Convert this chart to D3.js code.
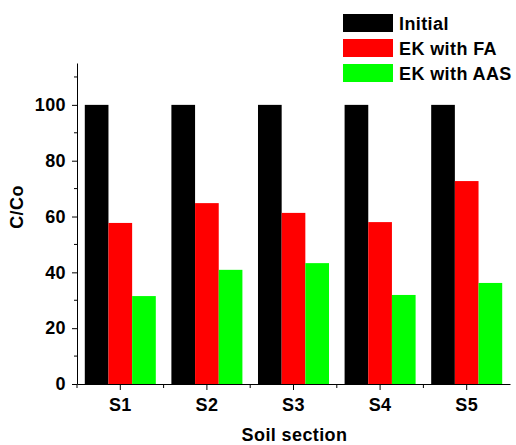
<!DOCTYPE html>
<html>
<head>
<meta charset="utf-8">
<script src="https://cdn.jsdelivr.net/npm/d3@7"></script>
<style>
  body { margin: 0; background: #fff; }
  svg text { font-family: "Liberation Sans", Arial, sans-serif; font-weight: bold; fill: #000; letter-spacing: 0.4px; }
</style>
</head>
<body>
<div id="chart"></div>
<script>
// Chart data
const sections = ["S1", "S2", "S3", "S4", "S5"];
const seriesNames = ["Initial", "EK with FA", "EK with AAS"];
const initialValues = [100, 100, 100, 100, 100];
const faValues = [57.7, 64.8, 61.3, 58.0, 72.7];
const aasValues = [31.5, 40.9, 43.3, 31.9, 36.2];
const yTicks = [0, 20, 40, 60, 80, 100];
const yMinorTicks = [10, 30, 50, 70, 90, 110];

const colors = ["#000000", "#ff0000", "#00ff00"];
const seriesValues = [initialValues, faValues, aasValues];

const width = 516, height = 445;
const svg = d3.select("#chart").append("svg")
    .attr("width", width)
    .attr("height", height);

// Plot area
const plotLeft = 77, plotRight = 510, plotBottom = 384, plotTop = 63;

const x0 = d3.scaleBand()
    .domain(sections)
    .range([plotLeft, plotRight])
    .paddingInner(0.18)
    .paddingOuter(0.09);

const x1 = d3.scaleBand()
    .domain(seriesNames)
    .range([0, x0.bandwidth()]);

const y = d3.scaleLinear()
    .domain([0, 115])
    .range([plotBottom, plotTop]);

// Bars
sections.forEach((s, i) => {
    seriesNames.forEach((name, k) => {
        const v = seriesValues[k][i];
        svg.append("rect")
            .attr("x", x0(s) + x1(name))
            .attr("y", y(v))
            .attr("width", x1.bandwidth())
            .attr("height", y(0) - y(v))
            .attr("fill", colors[k]);
    });
});

// Y axis
const yAxis = svg.append("g")
    .attr("transform", `translate(${plotLeft},0)`)
    .call(d3.axisLeft(y).tickValues(yTicks).tickSize(5).tickPadding(6).tickSizeOuter(0));
yAxis.append("g").selectAll("line")
    .data(yMinorTicks)
    .join("line")
    .attr("x1", -3).attr("x2", 0)
    .attr("y1", d => y(d)).attr("y2", d => y(d))
    .attr("stroke", "#000");

// X axis
const xAxis = svg.append("g")
    .attr("transform", `translate(0,${plotBottom})`)
    .call(d3.axisBottom(x0).tickSize(6).tickPadding(8).tickSizeOuter(0));
const minorX = sections.slice(1).map(s => x0(s) - x0.step() * x0.paddingInner() / 2);
xAxis.append("g").selectAll("line")
    .data([plotLeft].concat(minorX))
    .join("line")
    .attr("x1", d => d).attr("x2", d => d)
    .attr("y1", 0).attr("y2", 4)
    .attr("stroke", "#000");

svg.selectAll(".domain").attr("stroke", "#000");
svg.selectAll(".tick text")
    .style("font-size", "18px")
    .style("font-family", "Liberation Sans, Arial, sans-serif")
    .style("font-weight", "bold")
    .attr("fill", "#000");

// Axis labels
svg.append("text")
    .attr("x", (plotLeft + plotRight) / 2 + 1)
    .attr("y", 441)
    .attr("text-anchor", "middle")
    .style("font-size", "18px")
    .text("Soil section");

svg.append("text")
    .attr("transform", "translate(23,207) rotate(-90)")
    .attr("text-anchor", "middle")
    .style("font-size", "18px")
    .text("C/Co");

// Legend
const legend = svg.append("g");
seriesNames.forEach((name, k) => {
    legend.append("rect")
        .attr("x", 343)
        .attr("y", 14 + k * 25)
        .attr("width", 50)
        .attr("height", 18)
        .attr("fill", colors[k]);
    legend.append("text")
        .attr("x", 399)
        .attr("y", 30 + k * 25)
        .style("font-size", "18px")
        .text(name);
});
</script>
</body>
</html>
